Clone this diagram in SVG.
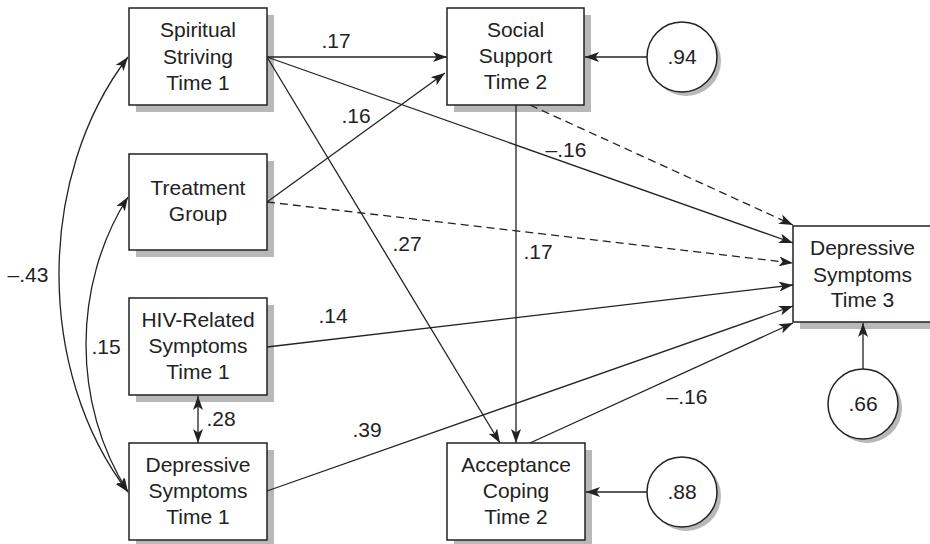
<svg xmlns="http://www.w3.org/2000/svg" width="930" height="544" viewBox="0 0 930 544">
<style>
  .box { fill: #fff; stroke: #222; stroke-width: 1.5; }
  .shd { fill: #b8b8b8; stroke: none; }
  .lbl { font-family: "Liberation Sans", Arial, sans-serif; font-size: 21px; fill: #222; text-anchor: middle; }
  .ln { fill: none; stroke: #222; stroke-width: 1.3; marker-end: url(#ah); }
  .dash { stroke-dasharray: 8 5; }
  .both { marker-start: url(#ah); }
</style>
<defs>
  <marker id="ah" viewBox="0 0 14 10" refX="14" refY="5" markerWidth="14" markerHeight="10" markerUnits="userSpaceOnUse" orient="auto-start-reverse">
    <path d="M0,0 L14,5 L0,10 L3.5,5 z" fill="#222" stroke="none"/>
  </marker>
</defs>
<rect width="930" height="544" fill="#fff"/>

<g id="shadows">
  <path class="shd" d="M267,15 H274 V112 H136 V105 H267 Z"/>
  <path class="shd" d="M267,161 H274 V257 H136 V250 H267 Z"/>
  <path class="shd" d="M267,305 H274 V402 H136 V395 H267 Z"/>
  <path class="shd" d="M267,450 H274 V547 H136 V540 H267 Z"/>
  <path class="shd" d="M584,15 H591 V112 H454 V105 H584 Z"/>
  <path class="shd" d="M585,450 H592 V547 H454 V540 H585 Z"/>
  <rect class="shd" x="800" y="322" width="140" height="7"/>
  <circle class="shd" cx="686" cy="61" r="35"/>
  <circle class="shd" cx="686" cy="496" r="35"/>
  <circle class="shd" cx="867" cy="408" r="35"/>
</g>

<g id="connectors">
  <path class="ln both" d="M128,57 C36,177 36,372 128,492"/>
  <path class="ln both" d="M128,197 C72,285 72,404 128,492"/>
  <line class="ln both" x1="198" y1="396" x2="198" y2="443"/>
  <line class="ln" x1="267" y1="57" x2="447" y2="57"/>
  <line class="ln" x1="267" y1="57" x2="793" y2="243"/>
  <line class="ln" x1="267" y1="57" x2="500" y2="443"/>
  <line class="ln" x1="267" y1="202" x2="445" y2="73"/>
  <line class="ln dash" x1="267" y1="202" x2="793" y2="263"/>
  <line class="ln dash" x1="530" y1="105" x2="793" y2="225"/>
  <line class="ln" x1="516" y1="105" x2="516" y2="443"/>
  <line class="ln" x1="267" y1="347" x2="793" y2="285"/>
  <line class="ln" x1="267" y1="491" x2="793" y2="306"/>
  <line class="ln" x1="530" y1="443" x2="793" y2="323"/>
  <line class="ln" x1="647" y1="57" x2="585" y2="57"/>
  <line class="ln" x1="647" y1="492" x2="586" y2="492"/>
  <line class="ln" x1="863" y1="369" x2="863" y2="323"/>
</g>

<g id="labels">
  <text class="lbl" x="336" y="48">.17</text>
  <text class="lbl" x="356" y="123">.16</text>
  <text class="lbl" x="566" y="157">–.16</text>
  <text class="lbl" x="407" y="251">.27</text>
  <text class="lbl" x="538" y="259">.17</text>
  <text class="lbl" x="28" y="282">–.43</text>
  <text class="lbl" x="106" y="354">.15</text>
  <text class="lbl" x="221" y="426">.28</text>
  <text class="lbl" x="333" y="323">.14</text>
  <text class="lbl" x="367" y="437">.39</text>
  <text class="lbl" x="687" y="404">–.16</text>
</g>

<g id="spiritual">
  <rect class="box" x="129" y="8" width="138" height="97"/>
  <text class="lbl" x="198" y="37">Spiritual</text>
  <text class="lbl" x="198" y="64">Striving</text>
  <text class="lbl" x="198" y="90">Time 1</text>
</g>
<g id="treatment">
  <rect class="box" x="129" y="154" width="138" height="96"/>
  <text class="lbl" x="198" y="195">Treatment</text>
  <text class="lbl" x="198" y="221">Group</text>
</g>
<g id="hiv">
  <rect class="box" x="129" y="298" width="138" height="97"/>
  <text class="lbl" x="198" y="327">HIV-Related</text>
  <text class="lbl" x="198" y="353">Symptoms</text>
  <text class="lbl" x="198" y="379">Time 1</text>
</g>
<g id="dep1">
  <rect class="box" x="129" y="443" width="138" height="97"/>
  <text class="lbl" x="198" y="472">Depressive</text>
  <text class="lbl" x="198" y="498">Symptoms</text>
  <text class="lbl" x="198" y="524">Time 1</text>
</g>
<g id="social">
  <rect class="box" x="447" y="8" width="137" height="97"/>
  <text class="lbl" x="515.5" y="37">Social</text>
  <text class="lbl" x="515.5" y="63">Support</text>
  <text class="lbl" x="515.5" y="89">Time 2</text>
</g>
<g id="acceptance">
  <rect class="box" x="447" y="443" width="138" height="97"/>
  <text class="lbl" x="516" y="472">Acceptance</text>
  <text class="lbl" x="516" y="498">Coping</text>
  <text class="lbl" x="516" y="524">Time 2</text>
</g>
<g id="dep3">
  <rect class="box" x="793" y="226" width="145" height="96"/>
  <text class="lbl" x="862.5" y="255">Depressive</text>
  <text class="lbl" x="862.5" y="282">Symptoms</text>
  <text class="lbl" x="862.5" y="307">Time 3</text>
</g>
<g id="e94">
  <circle class="box" cx="682" cy="57" r="35"/>
  <text class="lbl" x="682" y="64">.94</text>
</g>
<g id="e88">
  <circle class="box" cx="682" cy="492" r="35"/>
  <text class="lbl" x="682" y="499">.88</text>
</g>
<g id="e66">
  <circle class="box" cx="863" cy="404" r="35"/>
  <text class="lbl" x="863" y="411">.66</text>
</g>
</svg>
